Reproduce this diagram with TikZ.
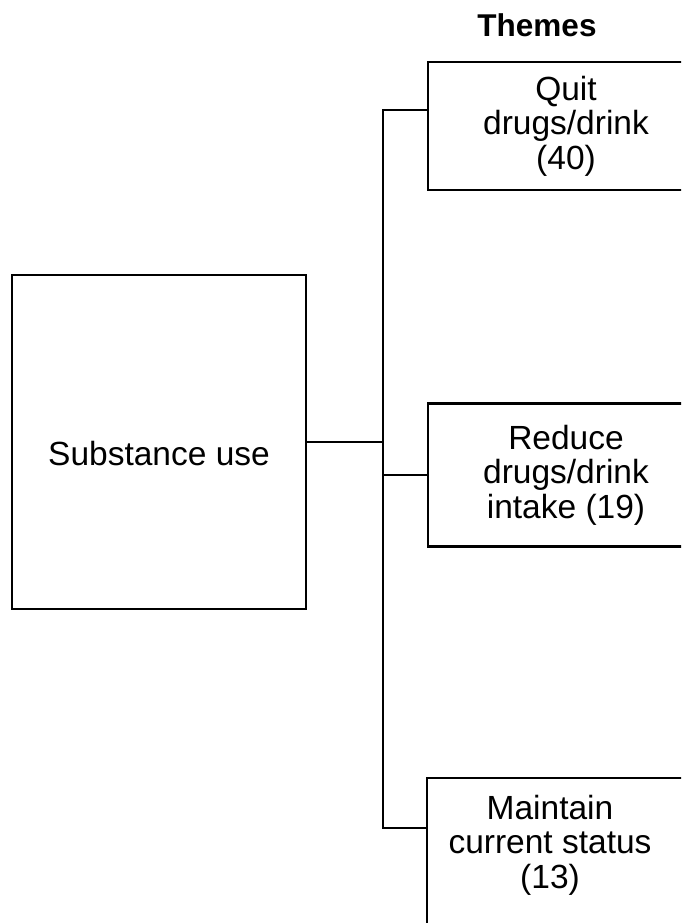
\documentclass[tikz,border=0pt]{standalone}
\usepackage{fontspec}
\setmainfont{Liberation Sans}
\usepackage{tikz}
\usetikzlibrary{positioning}
\tikzstyle{block} = [draw, rectangle, line width=2.4pt, align=center, inner sep=0pt, font=\fontsize{33.5}{34.5}\selectfont]
\tikzstyle{link} = [line width=2.4pt]

\begin{document}
\begin{tikzpicture}[x=1pt, y=-1pt]
	\useasboundingbox (0,0) rectangle (681,923);
	\clip (0,0) rectangle (681,923);

	\node (THEMES) at (537,25) {\fontsize{31.5}{31}\selectfont\bfseries Themes};
	\node (SUBSTANCE) [block, minimum width=294pt, minimum height=334pt, text height=46pt, text depth=0pt] at (159,442) {Substance use};
	\node (QUIT) [block, minimum width=276pt, minimum height=128pt] at (566,126) {Quit\\drugs/drink\\(40)};
	\node (REDUCE) [block, minimum width=276pt, minimum height=143pt] at (566,475) {Reduce\\drugs/drink\\intake (19)};
	\node (MAINTAIN) [block, minimum width=256pt, minimum height=175pt, anchor=north] at (555,777) {};
	\node (MAINTAIN_TEXT) [font=\fontsize{33.5}{34.5}\selectfont, align=center, inner sep=0pt, below=18pt of MAINTAIN.north, xshift=-5pt] {Maintain\\current status\\(13)};

	\coordinate (BUS_TOP) at (383,110);
	\coordinate (BUS_BOTTOM) at (383,828);

	\draw[link] (BUS_TOP -| QUIT.west) -- (BUS_TOP) -- (BUS_BOTTOM) -- (BUS_BOTTOM -| MAINTAIN.west);
	\draw[link] (SUBSTANCE.east) -- (SUBSTANCE.east -| BUS_TOP);
	\draw[link] (REDUCE.west) -- (REDUCE.west -| BUS_TOP);
\end{tikzpicture}
\end{document}
